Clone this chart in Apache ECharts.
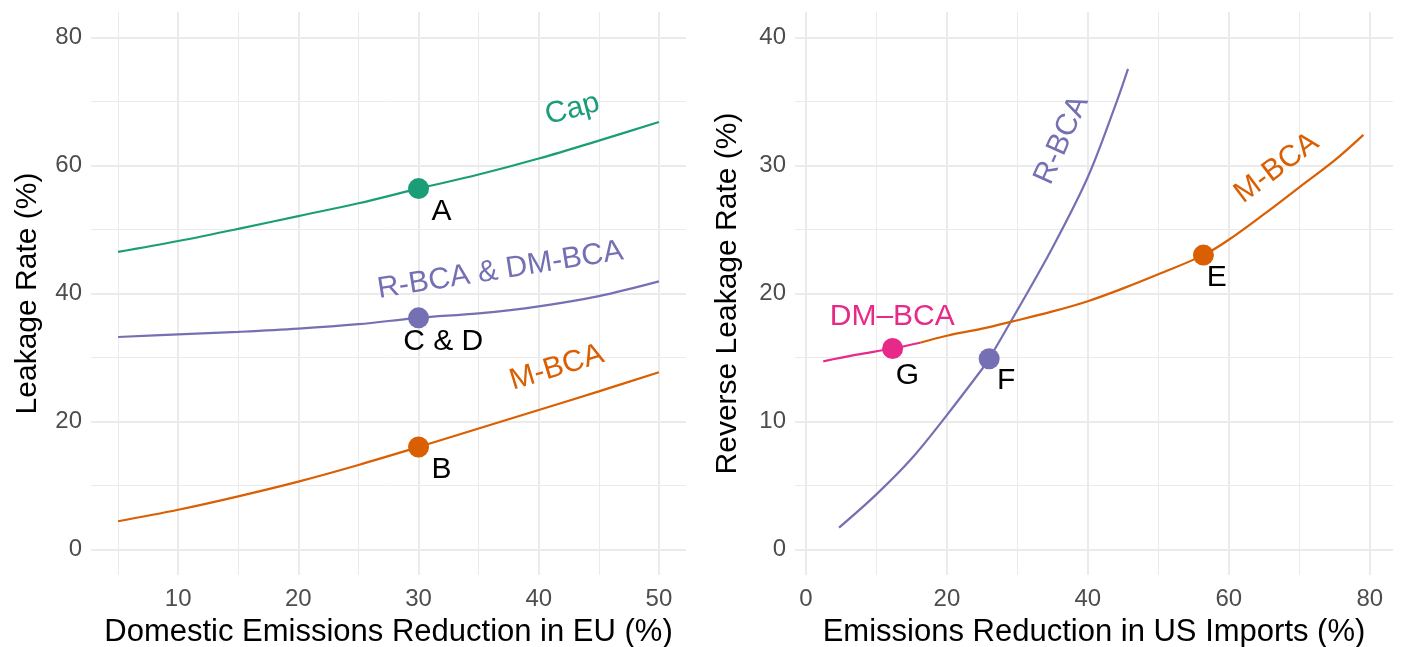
<!DOCTYPE html>
<html>
<head>
<meta charset="utf-8">
<script src="https://cdn.jsdelivr.net/npm/echarts@6/dist/echarts.min.js"></script>
<style>html,body{margin:0;padding:0;background:#fff;}#c{width:1401px;height:647px;}</style>
</head>
<body>
<div id="c"></div>
<script>
// ---- Left panel data ----
const leftX = [5, 10, 15, 20, 25, 30, 35, 40, 45, 50];
const capY = [46.5, 48.2, 50.1, 52.1, 54.1, 56.4, 58.6, 61.1, 63.9, 66.8];
const rdmY = [33.2, 33.6, 34.0, 34.5, 35.2, 36.2, 36.9, 38.0, 39.6, 41.9];
const mbcaLeftY = [4.4, 6.2, 8.3, 10.6, 13.2, 16.0, 18.9, 21.8, 24.7, 27.7];
const leftPointX = [30, 30, 30];
const leftPointY = [56.4, 16.0, 36.2];
const leftTicksX = [10, 20, 30, 40, 50];
const leftMinorX = [5, 15, 25, 35, 45];
const leftTicksY = [0, 20, 40, 60, 80];
const leftMinorY = [10, 30, 50, 70];

// ---- Right panel data ----
const rbcaX = [4.7, 10, 15, 20, 25, 26, 30, 35, 40, 44.1, 45.7];
const rbcaY = [1.7, 4.3, 7.1, 10.5, 14.1, 14.9, 18.7, 23.6, 29.1, 35.0, 37.55];
const mbcaRightX = [16.2, 20, 25, 29.2, 35, 40, 45, 50, 56.4, 60, 65, 70, 75, 79.1];
const mbcaRightY = [16.15, 16.7, 17.25, 17.8, 18.6, 19.4, 20.4, 21.5, 23.0, 24.2, 26.2, 28.3, 30.4, 32.4];
const dmX = [2.46, 7, 12.3, 16.2];
const dmY = [14.7, 15.2, 15.7, 16.15];
const rightPointX = [56.4, 26, 12.3];
const rightPointY = [23.0, 14.9, 15.7];
const rightTicksX = [0, 20, 40, 60, 80];
const rightMinorX = [10, 30, 50, 70];
const rightTicksY = [0, 10, 20, 30, 40];
const rightMinorY = [5, 15, 25, 35];

// annotation texts (data coordinates)
const leftLabels = ['Cap', 'R-BCA & DM-BCA', 'M-BCA', 'A', 'B', 'C & D'];
const leftLabelX = [42.8, 36.8, 41.5, 31.9, 31.9, 32.05];
const leftLabelY = [68.8, 43.6, 28.4, 52.8, 12.4, 32.4];
const rightLabels = ['R-BCA', 'M-BCA', 'E', 'F', 'G', 'DM\u2013BCA'];
const rightLabelX = [36.3, 66.8, 58.3, 28.4, 14.4, 12.25];
const rightLabelY = [32.0, 29.8, 21.2, 13.2, 13.6, 18.2];

const C = { cap: '#1B9E77', r: '#7570B3', m: '#D95F02', dm: '#E7298A' };
const FONT = 'Liberation Sans, Arial, Helvetica, sans-serif';
const GRID = '#EBEBEB';

const zip = (xs, ys) => xs.map((x, i) => [x, ys[i]]);

function majorAxis(grid, min, max, ticks, name, isX, nameGap) {
  return {
    type: 'value', gridIndex: grid, min: min, max: max,
    name: name, nameLocation: 'middle', nameGap: nameGap,
    nameTextStyle: { fontFamily: FONT, fontSize: isX ? 31 : 30, color: '#000' },
    axisLine: { show: false },
    axisTick: { show: false, customValues: ticks },
    axisLabel: { customValues: ticks, fontFamily: FONT, fontSize: 24, color: '#4D4D4D', margin: isX ? 12 : 9 },
    splitLine: { show: true, lineStyle: { color: GRID, width: 2 } }
  };
}
function minorAxis(grid, min, max, ticks) {
  return {
    type: 'value', gridIndex: grid, min: min, max: max,
    axisLine: { show: false },
    axisTick: { show: false, customValues: ticks },
    axisLabel: { show: false, customValues: ticks },
    splitLine: { show: true, lineStyle: { color: GRID, width: 1 } }
  };
}

const lineS = (xi, yi, data, color) => ({
  type: 'line', xAxisIndex: xi, yAxisIndex: yi, data: data, smooth: 0.35,
  showSymbol: false, symbol: 'none', lineStyle: { color: color, width: 2.2 }, silent: true, z: 3
});
const pointS = (xi, yi, data, colors) => ({
  type: 'scatter', xAxisIndex: xi, yAxisIndex: yi, symbolSize: 21, z: 5, silent: true,
  data: data.map((d, i) => ({ value: d, itemStyle: { color: colors[i], opacity: 1 } }))
});
const labelS = (xi, yi, texts, xs, ys, colors, rots) => ({
  type: 'scatter', xAxisIndex: xi, yAxisIndex: yi, symbolSize: 1, z: 6, silent: true,
  itemStyle: { color: 'rgba(0,0,0,0)', opacity: 1 },
  data: texts.map((t, i) => ({
    value: [xs[i], ys[i]],
    label: {
      show: true, position: 'inside', formatter: t, color: colors[i], rotate: rots[i], opacity: 1,
      fontFamily: FONT, fontSize: 30, align: 'center', verticalAlign: 'middle'
    }
  }))
});

const option = {
  backgroundColor: '#fff',
  animation: false,
  grid: [
    { left: 91, right: 715, top: 12, bottom: 72, containLabel: false, outerBoundsMode: 'none' },
    { left: 795, right: 8, top: 12, bottom: 72, containLabel: false, outerBoundsMode: 'none' }
  ],
  xAxis: [
    majorAxis(0, 2.75, 52.25, leftTicksX, 'Domestic Emissions Reduction in EU (%)', true, 42),
    minorAxis(0, 2.75, 52.25, leftMinorX),
    majorAxis(1, -1.55, 83.3, rightTicksX, 'Emissions Reduction in US Imports (%)', true, 42),
    minorAxis(1, -1.55, 83.3, rightMinorX)
  ],
  yAxis: [
    majorAxis(0, -4, 84, leftTicksY, 'Leakage Rate (%)', false, 48),
    minorAxis(0, -4, 84, leftMinorY),
    majorAxis(1, -2, 42, rightTicksY, 'Reverse Leakage Rate (%)', false, 52),
    minorAxis(1, -2, 42, rightMinorY)
  ],
  series: [
    lineS(0, 0, zip(leftX, capY), C.cap),
    lineS(0, 0, zip(leftX, rdmY), C.r),
    lineS(0, 0, zip(leftX, mbcaLeftY), C.m),
    pointS(0, 0, zip(leftPointX, leftPointY), [C.cap, C.m, C.r]),
    labelS(0, 0, leftLabels, leftLabelX, leftLabelY,
      [C.cap, C.r, C.m, '#000', '#000', '#000'], [15, 9, 17, 0, 0, 0]),
    lineS(2, 2, zip(rbcaX, rbcaY), C.r),
    lineS(2, 2, zip(mbcaRightX, mbcaRightY), C.m),
    lineS(2, 2, zip(dmX, dmY), C.dm),
    pointS(2, 2, zip(rightPointX, rightPointY), [C.m, C.r, C.dm]),
    labelS(2, 2, rightLabels, rightLabelX, rightLabelY,
      [C.r, C.m, '#000', '#000', '#000', C.dm], [66, 37, 0, 0, 0, 0])
  ]
};
const chart = echarts.init(document.getElementById('c'), null, { renderer: 'canvas' });
chart.setOption(option);
</script>
</body>
</html>
